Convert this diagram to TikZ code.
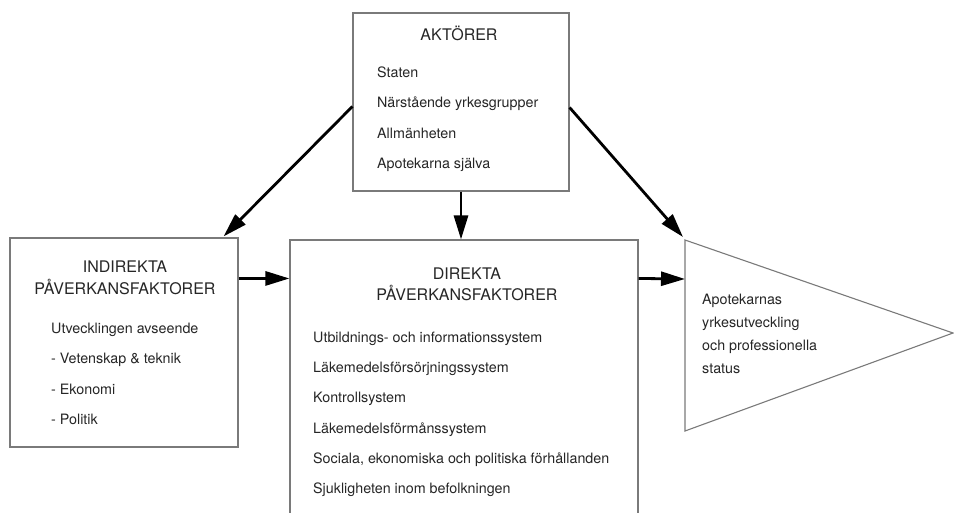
\documentclass[tikz,border=0pt]{standalone}
\usepackage{fontspec}
\setmainfont{TeX Gyre Heros}
\usetikzlibrary{arrows.meta,calc}
\definecolor{txt}{HTML}{262626}
\definecolor{frame}{HTML}{7A7A7A}
\tikzset{
  boxnode/.style={draw=frame, line width=1.1pt, fill=white, inner sep=0pt},
  titletext/.style={anchor=base, inner sep=0pt, text=txt, font=\fontsize{16}{18}\selectfont},
  bodytext/.style={anchor=base west, inner sep=0pt, text=txt, font=\fontsize{14.3}{16}\selectfont},
  bigarrow/.style={line width=2.8pt, -{Triangle[length=24pt,width=14pt]}},
}
\begin{document}
\begin{tikzpicture}[x=1pt,y=-1pt]
\useasboundingbox (0,0) rectangle (954,512);
\clip (0,0) rectangle (954,512);
\fill[white] (0,0) rectangle (954,512);

% boxes
\node[boxnode, minimum width=216pt, minimum height=178pt] (akt) at (461,102) {};
\node[boxnode, minimum width=228pt, minimum height=209pt] (ind) at (124,342.5) {};
\node[boxnode, minimum width=348pt, minimum height=300pt] (dir) at (464,390) {};

% triangle
\coordinate (t1) at (685,240);
\coordinate (t2) at (685,431);
\coordinate (t3) at (953,333);
\draw[frame, line width=1.1pt, line join=miter] (t1) -- (t3) -- (t2) -- cycle;

% AKTÖRER
\node[titletext] (aktt) at (459,40) {AKTÖRER};
\node[bodytext] (akt1) at (377,77) {Staten};
\node[bodytext] (akt2) at (377,107.5) {Närstående yrkesgrupper};
\node[bodytext] (akt3) at (377,138) {Allmänheten};
\node[bodytext] (akt4) at (377,168.5) {Apotekarna själva};

% INDIREKTA
\node[titletext] (indt1) at (125,272.5) {INDIREKTA};
\node[titletext] (indt2) at (125,294.5) {PÅVERKANSFAKTORER};
\node[bodytext] (ind1) at (51,333) {Utvecklingen avseende};
\node[bodytext] (ind2) at (51,363.5) {- Vetenskap \& teknik};
\node[bodytext] (ind3) at (51,394) {- Ekonomi};
\node[bodytext] (ind4) at (51,424.5) {- Politik};

% DIREKTA
\node[titletext] (dirt1) at (467,279) {DIREKTA};
\node[titletext] (dirt2) at (467,300.5) {PÅVERKANSFAKTORER};
\node[bodytext] (dir1) at (313,342) {Utbildnings- och informationssystem};
\node[bodytext] (dir2) at (313,372) {Läkemedelsförsörjningssystem};
\node[bodytext] (dir3) at (313,402.5) {Kontrollsystem};
\node[bodytext] (dir4) at (313,433) {Läkemedelsförmånssystem};
\node[bodytext] (dir5) at (313,463) {Sociala, ekonomiska och politiska förhållanden};
\node[bodytext] (dir6) at (313,493) {Sjukligheten inom befolkningen};

% triangle text
\node[bodytext] (res1) at (702,304) {Apotekarnas};
\node[bodytext] (res2) at (702,327) {yrkesutveckling};
\node[bodytext] (res3) at (702,350) {och professionella};
\node[bodytext] (res4) at (702,373) {status};

% arrows
\draw[bigarrow] ($(akt.north west)+(0,94)$) -- ($(ind.north east)+(-15,-1)$);
\draw[bigarrow] ($(akt.north east)+(0,95)$) -- ($(t1)+(-2,-3)$);
\draw[bigarrow] (akt.south) -- (akt.south |- dir.north);
\draw[bigarrow] ($(ind.north east)+(0,41)$) -- ($(dir.north west)+(0,39)$);
\draw[bigarrow] ($(dir.north east)+(0,39)$) -- ($(t1)+(0,39)$);
\end{tikzpicture}
\end{document}
